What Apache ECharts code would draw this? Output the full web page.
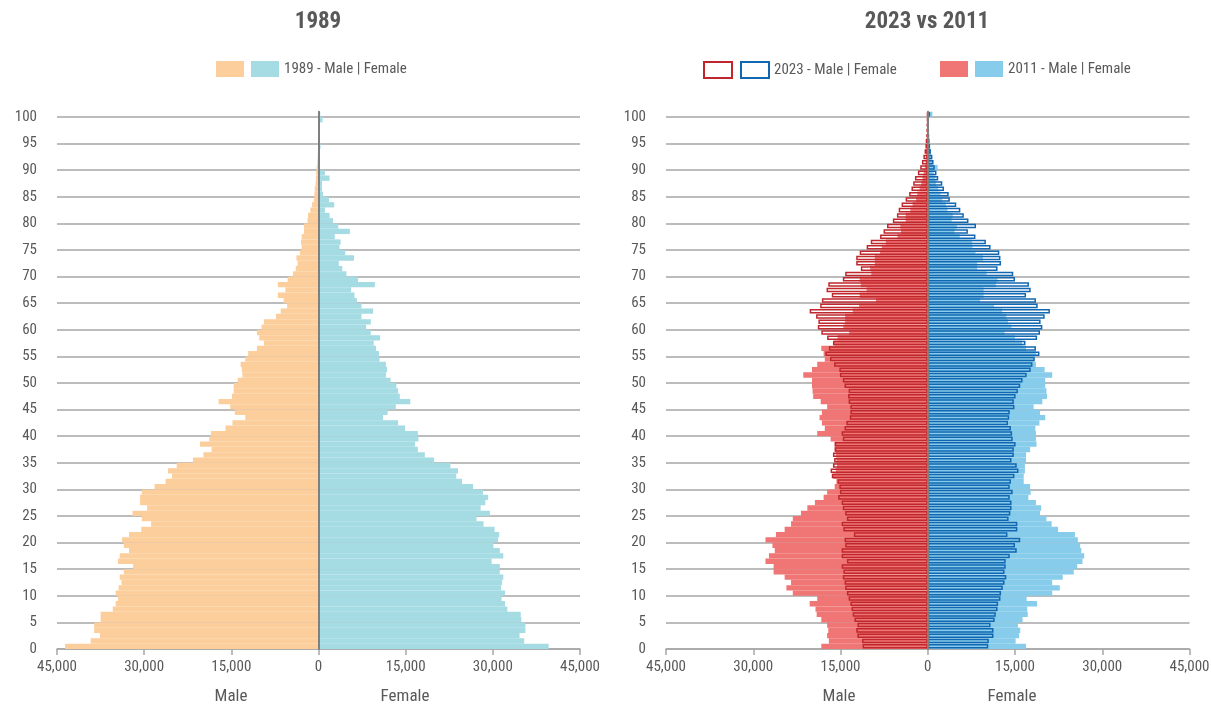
<!DOCTYPE html>
<html>
<head>
<meta charset="utf-8">
<title>Population pyramids</title>
<script src="https://cdn.jsdelivr.net/npm/echarts@6/dist/echarts.min.js"></script>
<style>
  html, body { margin: 0; padding: 0; background: #fff; }
  #chart { width: 1211px; height: 706px; }
</style>
</head>
<body>
<div id="chart"></div>
<script>
// ages 0..100 (one bar per year)
const ages = []
for (let a = 0; a <= 100; a++) ages.push(String(a))

const xTicks = [-45000, -30000, -15000, 0, 15000, 30000, 45000]

// 1989
const male1989 = [
  43600, 39200, 37600, 38600, 38600, 37500, 37500, 35400, 34900, 34500,
  34900, 34400, 33900, 34200, 33500, 31900, 34500, 34200, 32600, 33500,
  33800, 32600, 30500, 28800, 30400, 32000, 29500, 30700, 30700, 30400,
  28200, 26300, 25200, 25900, 24400, 21600, 19800, 18400, 20400, 18800,
  18500, 16000, 14800, 12600, 14400, 15200, 17200, 14900, 14600, 14600,
  13900, 13100, 13200, 13400, 12600, 12100, 10600, 9400, 10200, 10600,
  9800, 9400, 7300, 6500, 5400, 6000, 7000, 5700, 7000, 5300,
  4400, 3900, 3600, 3800, 3200, 2900, 3000, 2900, 2500, 2500,
  1900, 1800, 1400, 1100, 800, 700, 650, 500, 450, 400,
  300, 200, 150, 100, 80, 60, 40, 30, 20, 20, 20
]
const female1989 = [
  39600, 35400, 34600, 35600, 35600, 34900, 34800, 32500, 32100, 31500,
  32100, 31400, 31600, 31800, 31200, 31200, 29800, 31800, 31200, 30100,
  30900, 31100, 30300, 28400, 27200, 29500, 27900, 28700, 29200, 28300,
  26600, 24700, 23700, 24000, 22700, 19900, 18300, 17100, 16600, 17200,
  17100, 14900, 13700, 11100, 11900, 13300, 15800, 14000, 13700, 13400,
  12400, 11600, 11800, 11600, 10500, 10400, 9900, 9500, 10600, 9000,
  8200, 9000, 7400, 9400, 7400, 6600, 6200, 5600, 9700, 6800,
  4800, 4100, 3500, 6100, 4600, 3600, 3800, 2800, 5400, 3400,
  2500, 1900, 1100, 2700, 1800, 800, 600, 600, 1900, 1100,
  200, 200, 200, 200, 350, 150, 100, 100, 100, 700, 300
]

// 2011
const male2011 = [
  18300, 17000, 17300, 17100, 17300, 18300, 19100, 19300, 20300, 19000,
  23200, 24300, 23500, 24600, 26500, 26500, 27900, 27300, 26300, 26700,
  27900, 26100, 24600, 23500, 23200, 21800, 20700, 19400, 17900, 17300,
  16000, 15700, 16300, 15800, 15600, 15700, 15800, 16000, 16000, 16700,
  19000, 17700, 18200, 18600, 18200, 17300, 18400, 19700, 19800, 19900,
  19900, 21400, 19900, 19000, 17700, 17900, 18300, 16100, 15500, 13500,
  14500, 14200, 14200, 12900, 11800, 8900, 11700, 10500, 11500, 11700,
  9700, 9900, 9100, 9100, 8200, 7900, 7200, 5200, 4600, 4700,
  3800, 3800, 3000, 2600, 2000, 1800, 1400, 1100, 900, 700,
  500, 350, 300, 200, 150, 100, 50, 50, 50, 50, 50
]
const female2011 = [
  16900, 15100, 15700, 15900, 15500, 16300, 17200, 17100, 18800, 17000,
  21400, 22700, 21400, 23200, 25100, 25700, 26600, 26900, 26400, 26200,
  25800, 25300, 22400, 21300, 20400, 19300, 19500, 18600, 17300, 17700,
  17600, 16500, 16500, 16700, 16700, 16900, 16900, 17600, 18700, 18600,
  18600, 18500, 19200, 20200, 19300, 18200, 19700, 20500, 20400, 20200,
  20200, 21400, 20100, 18600, 18300, 18600, 16900, 16200, 15000, 13200,
  14400, 13800, 13500, 12800, 11400, 9000, 9600, 9600, 11700, 12000,
  10100, 8500, 8500, 9500, 8200, 7700, 7600, 5500, 4600, 5000,
  4100, 4300, 3400, 3100, 2500, 2200, 1800, 1400, 1300, 1000,
  1700, 800, 600, 500, 400, 300, 200, 150, 100, 100, 800
]

// 2023
const male2023 = [
  11200, 11300, 12100, 12300, 12100, 12600, 12900, 13100, 13300, 13600,
  13900, 14200, 14300, 14600, 14500, 14800, 13900, 14800, 14800, 14200,
  14300, 12700, 14500, 14800, 13900, 14200, 14600, 14800, 15400, 15100,
  15200, 15500, 16500, 16700, 16300, 16100, 16300, 16000, 16000, 14600,
  14800, 14300, 14000, 13400, 13300, 13300, 13600, 13700, 13600, 14300,
  14600, 15100, 15200, 16100, 16800, 17600, 17000, 16300, 17300, 18300,
  18900, 18800, 19200, 20300, 18500, 18200, 16500, 17400, 17100, 14600,
  14200, 11500, 12300, 12300, 11700, 10500, 9800, 8200, 7600, 7000,
  6000, 5300, 5000, 4500, 3800, 3200, 2800, 2500, 2200, 1700,
  1300, 1000, 750, 550, 400, 350, 250, 200, 150, 100, 100
]
const female2023 = [
  10400, 10500, 11300, 11300, 10800, 11500, 11700, 12000, 12100, 12500,
  12600, 12900, 13200, 13500, 13200, 13400, 13400, 14100, 15300, 15000,
  15900, 13700, 15400, 15400, 13900, 14200, 14400, 14400, 14100, 14600,
  14100, 14300, 14900, 15600, 15300, 14400, 14800, 14800, 15100, 14600,
  14500, 14300, 13800, 14000, 14100, 14900, 14800, 15100, 15500, 15900,
  16300, 17000, 17700, 18000, 18400, 19200, 18600, 16800, 18800, 19300,
  19700, 19400, 20100, 21000, 18900, 18600, 16900, 17700, 17400, 15000,
  14700, 12000, 12600, 12500, 12300, 10800, 10000, 8200, 6900, 8300,
  7000, 6200, 5600, 4900, 3800, 3600, 2800, 2500, 1800, 1500,
  1200, 1000, 800, 550, 400, 300, 250, 200, 150, 100, 400
]

const font = '"Roboto Condensed", "Liberation Sans Narrow", Roboto, sans-serif'
const textColor = '#595959'
const lineColor = '#a6a6a6'

const neg = arr => arr.map(v => -v)
const fmt = v => Math.abs(v).toLocaleString('en-US')

const grids = [
  { left: 57, top: 111.7, width: 523, height: 537.3, outerBoundsMode: 'none', containLabel: false },
  { left: 666, top: 111.7, width: 523.5, height: 537.3, outerBoundsMode: 'none', containLabel: false }
]

function xAxisFor(i) {
  return {
    type: 'value',
    gridIndex: i,
    position: 'bottom',
    min: xTicks[0],
    max: xTicks[xTicks.length - 1],
    interval: 15000,
    axisLine: { show: true, onZero: false, lineStyle: { color: lineColor, width: 1.5 } },
    axisTick: { show: true, length: 6, lineStyle: { color: lineColor, width: 1.5 } },
    axisLabel: { formatter: fmt, color: textColor, fontSize: 15, fontFamily: font, margin: 11 },
    splitLine: { show: false }
  }
}

function catAxis(i, showLine) {
  return {
    type: 'category',
    gridIndex: i,
    position: 'left',
    data: ages,
    z: 10,
    axisLine: { show: showLine, onZero: true, lineStyle: { color: '#7f7f7f', width: 2 } },
    axisTick: { show: false },
    axisLabel: { show: false },
    splitLine: { show: false }
  }
}

function ageAxis(i) {
  return {
    type: 'value',
    gridIndex: i,
    position: 'left',
    min: 0,
    max: 101,
    interval: 5,
    axisLine: { show: false, onZero: false },
    axisTick: { show: false },
    axisLabel: { showMaxLabel: false, color: textColor, fontSize: 15, fontFamily: font, margin: 20 },
    splitLine: { show: true, showMaxLine: false, lineStyle: { color: lineColor, width: 1.5 } }
  }
}

const legendBase = {
  orient: 'horizontal',
  top: 61,
  padding: 0,
  icon: 'rect',
  itemWidth: 28,
  itemHeight: 16,
  itemGap: 7,
  selectedMode: false,
  textStyle: { color: textColor, fontSize: 15, fontFamily: font }
}

const chart = echarts.init(document.getElementById('chart'))

const option = {
  animation: false,
  backgroundColor: '#fff',
  grid: grids,
  xAxis: [xAxisFor(0), xAxisFor(1)],
  yAxis: [catAxis(0, true), ageAxis(0), catAxis(1, true), catAxis(1, false), ageAxis(1)],
  legend: [
    Object.assign({}, legendBase, {
      left: 216,
      data: ['1989 Male', '1989 Female'],
      formatter: n => n === '1989 Female' ? '1989 - Male | Female' : ''
    }),
    Object.assign({}, legendBase, {
      left: 703,
      data: ['2023 Male', '2023 Female'],
      formatter: n => n === '2023 Female' ? '2023 - Male | Female' : ''
    }),
    Object.assign({}, legendBase, {
      left: 940,
      data: ['2011 Male', '2011 Female'],
      formatter: n => n === '2011 Female' ? '2011 - Male | Female' : ''
    })
  ],
  graphic: [
    { type: 'text', x: 318, y: 22, style: { text: '1989', textAlign: 'center', textVerticalAlign: 'middle', font: 'bold 23px ' + font, fill: textColor } },
    { type: 'text', x: 927, y: 22, style: { text: '2023 vs 2011', textAlign: 'center', textVerticalAlign: 'middle', font: 'bold 23px ' + font, fill: textColor } },
    { type: 'text', x: 231, y: 697, style: { text: 'Male', textAlign: 'center', textVerticalAlign: 'middle', font: '17px ' + font, fill: textColor } },
    { type: 'text', x: 405, y: 697, style: { text: 'Female', textAlign: 'center', textVerticalAlign: 'middle', font: '17px ' + font, fill: textColor } },
    { type: 'text', x: 839, y: 697, style: { text: 'Male', textAlign: 'center', textVerticalAlign: 'middle', font: '17px ' + font, fill: textColor } },
    { type: 'text', x: 1012, y: 697, style: { text: 'Female', textAlign: 'center', textVerticalAlign: 'middle', font: '17px ' + font, fill: textColor } }
  ],
  series: [
    {
      name: '1989 Male', type: 'bar', xAxisIndex: 0, yAxisIndex: 0,
      data: neg(male1989), barWidth: '100%', barGap: '-100%',
      itemStyle: { color: '#fcce9b' }
    },
    {
      name: '1989 Female', type: 'bar', xAxisIndex: 0, yAxisIndex: 0,
      data: female1989, barWidth: '100%', barGap: '-100%',
      itemStyle: { color: '#a5dbe3' }
    },
    {
      name: '2011 Male', type: 'bar', xAxisIndex: 1, yAxisIndex: 2,
      data: neg(male2011), barWidth: '100%', barGap: '-100%',
      itemStyle: { color: '#f07575' }
    },
    {
      name: '2011 Female', type: 'bar', xAxisIndex: 1, yAxisIndex: 2,
      data: female2011, barWidth: '100%', barGap: '-100%',
      itemStyle: { color: '#87ccea' }
    },
    {
      name: '2023 Male', type: 'bar', xAxisIndex: 1, yAxisIndex: 3,
      data: neg(male2023), barWidth: '85%', barGap: '-100%',
      itemStyle: { color: 'rgba(255,255,255,0)', borderColor: '#c0272d', borderWidth: 1.5 }
    },
    {
      name: '2023 Female', type: 'bar', xAxisIndex: 1, yAxisIndex: 3,
      data: female2023, barWidth: '85%', barGap: '-100%',
      itemStyle: { color: 'rgba(255,255,255,0)', borderColor: '#1167b1', borderWidth: 1.5 }
    }
  ]
}

chart.setOption(option)
</script>
</body>
</html>
